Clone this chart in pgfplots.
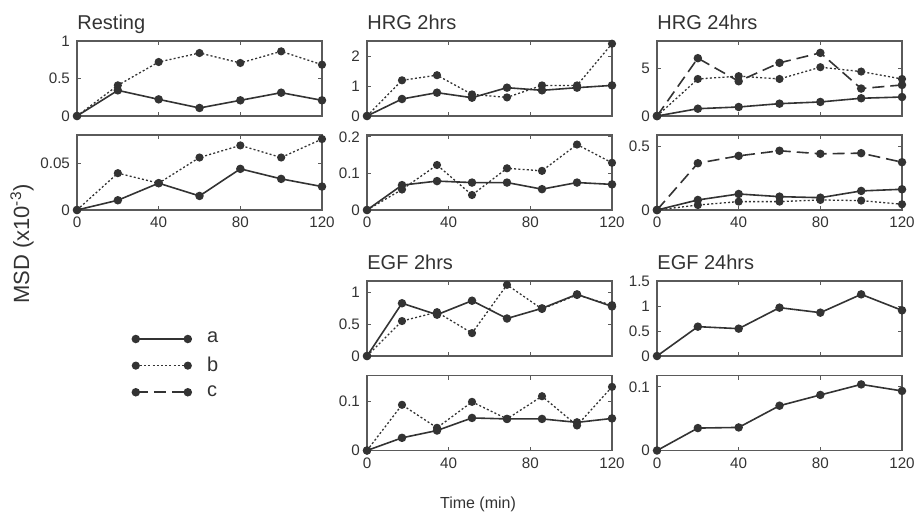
\documentclass[border=0pt]{standalone}
\usepackage{fontspec}
\setmainfont{Liberation Sans}
\usepackage{pgfplots}
\pgfplotsset{compat=1.18}

\definecolor{ink}{HTML}{333333}
\definecolor{frame}{HTML}{5A5A5A}

\pgfplotsset{
  panel/.style={
    scale only axis, width=122.5pt, height=37.5pt,
    anchor=north west,
    xmin=0, xmax=120, ymin=0,
    xtick={0,40,80,120}, xticklabels={},
    scaled y ticks=false, scaled x ticks=false,
    tick align=inside, major tick length=2pt,
    axis line style={frame, line width=0.6pt},
    every tick/.style={frame, line width=0.5pt},
    tick label style={font=\fontsize{7.6}{8}\selectfont, text=ink},
    every axis title shift=0pt,
    title style={at={(0,1)}, anchor=base west, yshift=6pt, inner sep=0pt,
      font=\fontsize{10}{11}\selectfont, text=ink},
    clip=false,
  },
  xlab/.style={xticklabels={0,40,80,120}},
  sa/.style={ink, line width=0.8pt, mark=*, mark size=1.7pt, mark options={solid, fill=ink}},
  sb/.style={sa, line width=0.65pt, dash pattern=on 1pt off 1.1pt},
  sc/.style={sa, dash pattern=on 6pt off 3pt},
}

\begin{document}
\begin{tikzpicture}
\useasboundingbox (0,0) rectangle (460pt,-257pt);

% Resting
\begin{axis}[panel, at={(38.5pt,-20.5pt)}, title={Resting},
  ymax=1, ytick={0,0.5,1}, yticklabels={0,0.5,1}]
\addplot[sa] coordinates {(0,0)(20,0.342)(40,0.222)(60,0.107)(80,0.209)(100,0.311)(120,0.209)};
\addplot[sb] coordinates {(0,0)(20,0.409)(40,0.72)(60,0.84)(80,0.707)(100,0.862)(120,0.684)};
\end{axis}
\begin{axis}[panel, xlab, at={(38.5pt,-67.5pt)},
  ymax=0.08, ytick={0,0.05}, yticklabels={0,0.05},
  legend style={at={(0.2245,-2.075)}, anchor=west, draw=none, fill=none,
    inner sep=0pt, row sep=1.5pt, column sep=6pt, font=\fontsize{10}{11}\selectfont, text=ink},
  legend cell align=left,
  legend image code/.code={
    \draw[#1, mark=none] (0pt,0pt) -- (26pt,0pt);
    \path[#1, draw=none] plot[only marks] coordinates {(0pt,0pt) (26pt,0pt)};
  }]
\addplot[sa] coordinates {(0,0)(20,0.0104)(40,0.0286)(60,0.015)(80,0.0439)(100,0.0332)(120,0.025)};
\addlegendentry{a}
\addplot[sb] coordinates {(0,0)(20,0.0393)(40,0.0286)(60,0.056)(80,0.0689)(100,0.056)(120,0.0757)};
\addlegendentry{b}
\addlegendimage{sc}
\addlegendentry{c}
\end{axis}

% HRG 2hrs
\begin{axis}[panel, at={(183.5pt,-20.5pt)}, title={HRG 2hrs},
  ymax=2.5, ytick={0,1,2}, yticklabels={0,1,2}]
\addplot[sa] coordinates {(0,0)(17.14,0.567)(34.29,0.778)(51.43,0.61)(68.57,0.944)(85.71,0.856)(102.86,0.944)(120,1.02)};
\addplot[sb] coordinates {(0,0)(17.14,1.19)(34.29,1.36)(51.43,0.72)(68.57,0.62)(85.71,1.02)(102.86,1.02)(120,2.41)};
\end{axis}
\begin{axis}[panel, xlab, at={(183.5pt,-67.5pt)},
  ymax=0.205, ytick={0,0.1,0.2}, yticklabels={0,0.1,0.2}]
\addplot[sa] coordinates {(0,0)(17.14,0.068)(34.29,0.079)(51.43,0.075)(68.57,0.075)(85.71,0.057)(102.86,0.075)(120,0.07)};
\addplot[sb] coordinates {(0,0)(17.14,0.056)(34.29,0.123)(51.43,0.041)(68.57,0.114)(85.71,0.107)(102.86,0.179)(120,0.129)};
\end{axis}

% HRG 24hrs
\begin{axis}[panel, at={(328.5pt,-20.5pt)}, title={HRG 24hrs},
  ymax=7.9, ytick={0,5}, yticklabels={0,5}]
\addplot[sa] coordinates {(0,0)(20,0.77)(40,0.95)(60,1.3)(80,1.48)(100,1.87)(120,2.0)};
\addplot[sb] coordinates {(0,0)(20,3.9)(40,4.2)(60,3.9)(80,5.14)(100,4.68)(120,3.9)};
\addplot[sc] coordinates {(0,0)(20,6.09)(40,3.66)(60,5.6)(80,6.65)(100,2.89)(120,3.27)};
\end{axis}
\begin{axis}[panel, xlab, at={(328.5pt,-67.5pt)},
  ymax=0.59, ytick={0,0.5}, yticklabels={0,0.5}]
\addplot[sa] coordinates {(0,0)(20,0.079)(40,0.126)(60,0.105)(80,0.097)(100,0.15)(120,0.163)};
\addplot[sb] coordinates {(0,0)(20,0.039)(40,0.066)(60,0.066)(80,0.079)(100,0.074)(120,0.045)};
\addplot[sc] coordinates {(0,0)(20,0.368)(40,0.426)(60,0.466)(80,0.442)(100,0.447)(120,0.376)};
\end{axis}

% EGF 2hrs
\begin{axis}[panel, at={(183.5pt,-140.5pt)}, title={EGF 2hrs},
  ymax=1.18, ytick={0,0.5,1}, yticklabels={0,0.5,1}]
\addplot[sa] coordinates {(0,0)(17.14,0.83)(34.29,0.65)(51.43,0.87)(68.57,0.59)(85.71,0.75)(102.86,0.97)(120,0.78)};
\addplot[sb] coordinates {(0,0)(17.14,0.55)(34.29,0.69)(51.43,0.36)(68.57,1.12)(85.71,0.74)(102.86,0.96)(120,0.8)};
\end{axis}
\begin{axis}[panel, xlab, at={(183.5pt,-187.75pt)},
  ymax=0.152, ytick={0,0.1}, yticklabels={0,0.1}]
\addplot[sa] coordinates {(0,0)(17.14,0.0257)(34.29,0.0405)(51.43,0.066)(68.57,0.064)(85.71,0.064)(102.86,0.057)(120,0.065)};
\addplot[sb] coordinates {(0,0)(17.14,0.0926)(34.29,0.046)(51.43,0.0986)(68.57,0.064)(85.71,0.11)(102.86,0.0507)(120,0.129)};
\end{axis}

% EGF 24hrs
\begin{axis}[panel, at={(328.5pt,-140.5pt)}, title={EGF 24hrs},
  ymax=1.5, ytick={0,0.5,1,1.5}, yticklabels={0,0.5,1,1.5}]
\addplot[sa] coordinates {(0,0)(20,0.587)(40,0.547)(60,0.967)(80,0.867)(100,1.233)(120,0.913)};
\end{axis}
\begin{axis}[panel, xlab, at={(328.5pt,-187.75pt)},
  ymax=0.118, ytick={0,0.1}, yticklabels={0,0.1}]
\addplot[sa] coordinates {(0,0)(20,0.0353)(40,0.0363)(60,0.0705)(80,0.0874)(100,0.104)(120,0.0937)};
\end{axis}

\node[rotate=90, text=ink, font=\fontsize{11}{12}\selectfont] at (11pt,-122pt) {MSD (x10\textsuperscript{-3})};
\node[anchor=base, text=ink, font=\fontsize{8}{10}\selectfont] at (239pt,-254pt) {Time (min)};
\end{tikzpicture}
\end{document}
